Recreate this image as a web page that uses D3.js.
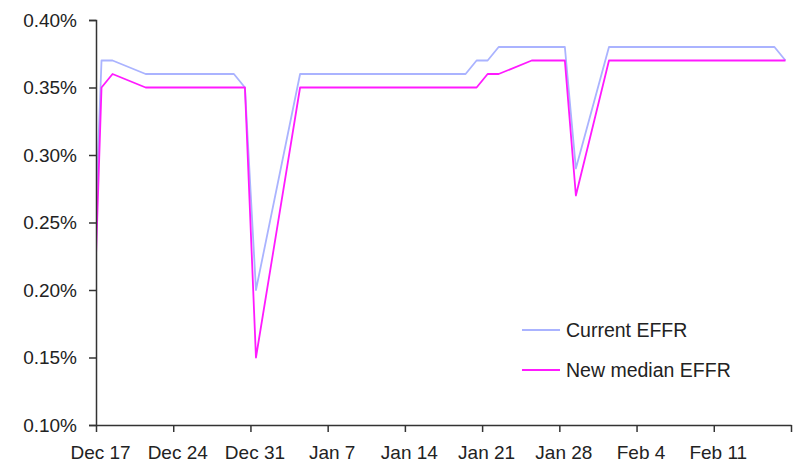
<!DOCTYPE html>
<html>
<head>
<meta charset="utf-8">
<script src="https://cdn.jsdelivr.net/npm/d3@7"></script>
<style>
  html, body { margin: 0; padding: 0; background: #ffffff; }
  svg { display: block; }
  text { font-family: "Liberation Sans", Arial, sans-serif; fill: #222; }
</style>
</head>
<body>
<svg id="chart" width="798" height="469"></svg>
<script>
// ---- Data (business days, percent) ----
const dates = [
  "2015-12-16","2015-12-17","2015-12-18","2015-12-21","2015-12-22","2015-12-23","2015-12-24",
  "2015-12-28","2015-12-29","2015-12-30","2015-12-31",
  "2016-01-04","2016-01-05","2016-01-06","2016-01-07","2016-01-08",
  "2016-01-11","2016-01-12","2016-01-13","2016-01-14","2016-01-15",
  "2016-01-19","2016-01-20","2016-01-21","2016-01-22",
  "2016-01-25","2016-01-26","2016-01-27","2016-01-28","2016-01-29",
  "2016-02-01","2016-02-02","2016-02-03","2016-02-04","2016-02-05",
  "2016-02-08","2016-02-09","2016-02-10","2016-02-11","2016-02-12",
  "2016-02-16","2016-02-17"
];
const currentEFFR = [
  0.15,0.37,0.37,0.36,0.36,0.36,0.36,
  0.36,0.36,0.35,0.20,
  0.36,0.36,0.36,0.36,0.36,
  0.36,0.36,0.36,0.36,0.36,
  0.36,0.37,0.37,0.38,
  0.38,0.38,0.38,0.38,0.29,
  0.38,0.38,0.38,0.38,0.38,
  0.38,0.38,0.38,0.38,0.38,
  0.38,0.37
];
const newMedianEFFR = [
  0.10,0.35,0.36,0.35,0.35,0.35,0.35,
  0.35,0.35,0.35,0.15,
  0.35,0.35,0.35,0.35,0.35,
  0.35,0.35,0.35,0.35,0.35,
  0.35,0.35,0.36,0.36,
  0.37,0.37,0.37,0.37,0.27,
  0.37,0.37,0.37,0.37,0.37,
  0.37,0.37,0.37,0.37,0.37,
  0.37,0.37
];
const seriesNames = ["Current EFFR", "New median EFFR"];
const seriesColors = ["#aab3ff", "#ff1aff"];
const xDomain = ["2015-12-17", "2016-02-18"];
const xTickDates = ["2015-12-17","2015-12-24","2015-12-31","2016-01-07","2016-01-14",
                    "2016-01-21","2016-01-28","2016-02-04","2016-02-11","2016-02-18"];
const xTickLabels = ["Dec 17","Dec 24","Dec 31","Jan 7","Jan 14","Jan 21","Jan 28","Feb 4","Feb 11",""];
const yTicks = [0.10, 0.15, 0.20, 0.25, 0.30, 0.35, 0.40];

// ---- Layout ----
const svg = d3.select("#chart");
const mLeft = 96, mRight = 791, mTop = 20, mBottom = 425;
const parse = d3.utcParse("%Y-%m-%d");

const x = d3.scaleUtc().domain(xDomain.map(parse)).range([mLeft, mRight]);
const y = d3.scaleLinear().domain([0.10, 0.40]).range([mBottom, mTop]);

// points sit in the middle of their day (date axis, between tick marks)
const mid = d => d3.utcHour.offset(parse(d), 12);

svg.append("defs").append("clipPath").attr("id", "plotclip")
  .append("rect").attr("x", mLeft).attr("y", mTop - 5)
  .attr("width", mRight - mLeft + 1).attr("height", mBottom - mTop + 5);

// ---- Lines ----
const allSeries = [currentEFFR, newMedianEFFR];
const line = d3.line().x(d => x(d[0])).y(d => y(d[1]));
const gLines = svg.append("g").attr("clip-path", "url(#plotclip)");
allSeries.forEach((vals, i) => {
  const pts = dates.map((d, j) => [mid(d), vals[j]]);
  gLines.append("path")
    .attr("d", line(pts))
    .attr("fill", "none")
    .attr("stroke", seriesColors[i])
    .attr("stroke-width", 1.8)
    .attr("stroke-linejoin", "round");
});

// ---- Axes ----
const axisColor = "#333";
const yAxis = d3.axisLeft(y).tickValues(yTicks)
  .tickFormat(v => d3.format(".2f")(v) + "%").tickSize(7).tickPadding(12);
const gy = svg.append("g").attr("transform", `translate(${mLeft},0)`).call(yAxis);
gy.select(".domain").attr("stroke", axisColor).attr("stroke-width", 1.5);
gy.selectAll(".tick line").attr("stroke", axisColor).attr("stroke-width", 1.5);
gy.selectAll(".tick text").attr("font-size", 19).attr("font-family", "Liberation Sans, Arial, sans-serif").attr("fill", "#222");

const xAxis = d3.axisBottom(x).tickValues(xTickDates.map(parse))
  .tickFormat((d, i) => xTickLabels[i]).tickSize(7).tickSizeOuter(0).tickPadding(14);
const gx = svg.append("g").attr("transform", `translate(0,${mBottom})`).call(xAxis);
gx.select(".domain").attr("stroke", axisColor).attr("stroke-width", 1.5);
gx.selectAll(".tick line").attr("stroke", axisColor).attr("stroke-width", 1.5);
gx.selectAll(".tick text").attr("font-size", 19).attr("dx", 4)
  .attr("font-family", "Liberation Sans, Arial, sans-serif").attr("fill", "#222");

// ---- Legend ----
const legend = svg.append("g");
seriesNames.forEach((name, i) => {
  const ly = 330 + i * 40;
  legend.append("line").attr("x1", 522).attr("x2", 560).attr("y1", ly).attr("y2", ly)
    .attr("stroke", seriesColors[i]).attr("stroke-width", 1.8);
  legend.append("text").attr("x", 566).attr("y", ly).attr("dy", "0.35em")
    .attr("font-size", 19.5).text(name);
});
</script>
</body>
</html>
